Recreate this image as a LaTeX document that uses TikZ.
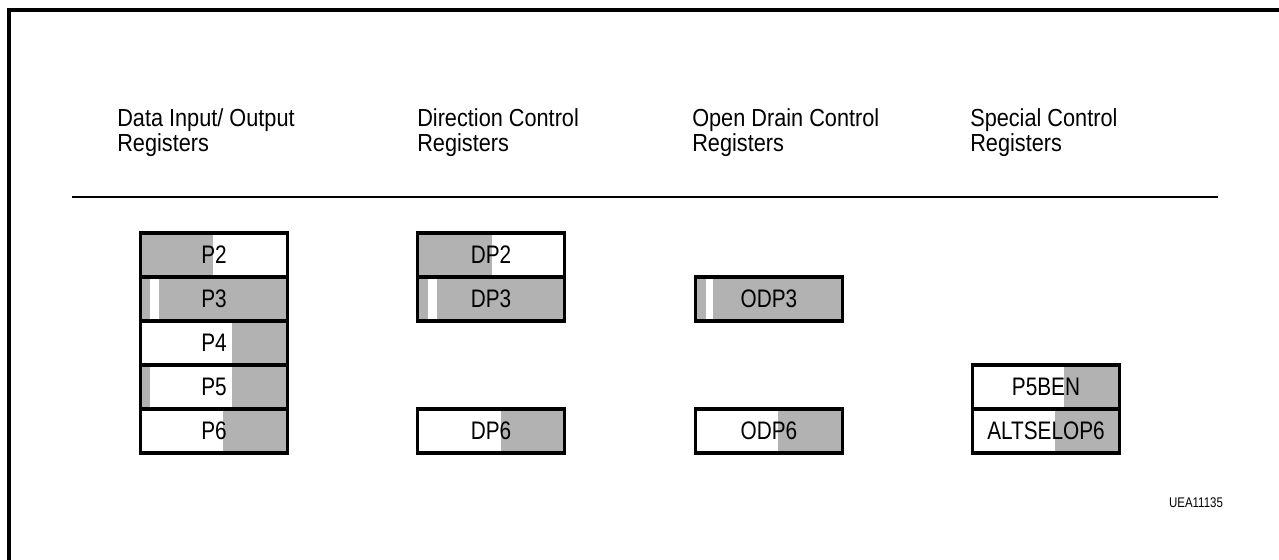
\documentclass[tikz,border=0pt]{standalone}
\usepackage{fontspec}
\setmainfont{Liberation Sans}
\newfontfamily\narrowsans[FakeStretch=0.82]{Liberation Sans}
\newfontfamily\headsans[FakeStretch=0.88]{Liberation Sans}
\usetikzlibrary{positioning}

\definecolor{regshade}{gray}{0.7}

\newcommand*{\regw}{110.25pt}
\newcommand*{\regh}{33pt}

\begin{document}
\begin{tikzpicture}
[
	x=0.75pt, y=-0.75pt,
	reg/.style={rectangle,draw,line width=2.3pt,outer sep=0pt,inner sep=0pt,
		minimum width=\regw,minimum height=\regh,font=\narrowsans\fontsize{19}{20}\selectfont},
	head/.style={anchor=north west,align=left,inner sep=0pt,
		font=\headsans\fontsize{18.5}{19}\selectfont},
	shade/.style={fill=regshade},
	gap/.style={fill=white}
]

	\useasboundingbox[fill=white] (0,0) rectangle (1279,560);

	% frame
	\draw[line width=2.3pt] (9,560) -- (9,10) -- (1279,10);

	% fills
	\fill[shade] (141,233) rectangle (213,277);
	\fill[shade] (141,277) rectangle (287,321);
	\fill[gap] (150,277) rectangle (159,321);
	\fill[shade] (232,321) rectangle (287,365);
	\fill[shade] (141,365) rectangle (150,409);
	\fill[shade] (232,365) rectangle (287,409);
	\fill[shade] (223,409) rectangle (287,453);

	\fill[shade] (418,233) rectangle (492,277);
	\fill[shade] (418,277) rectangle (564,321);
	\fill[gap] (428,277) rectangle (437,321);
	\fill[shade] (501,409) rectangle (564,453);

	\fill[shade] (696,277) rectangle (842,321);
	\fill[gap] (706,277) rectangle (713,321);
	\fill[shade] (778,409) rectangle (842,453);

	\fill[shade] (1064,365) rectangle (1119,409);
	\fill[shade] (1055,409) rectangle (1119,453);

	% headings
	\node[head] (hdata) at (117,108) {Data Input/ Output\\Registers};
	\node[head] (hdir) at (417,108) {Direction Control\\Registers};
	\node[head] (hodr) at (692,108) {Open Drain Control\\Registers};
	\node[head] (hspec) at (970,108) {Special Control\\Registers};

	\coordinate (rulel) at (72,197);
	\coordinate (ruler) at (1218,197);
	\draw[line width=0.8pt] (rulel) -- (ruler);

	% data registers
	\node[reg] (p2) at (214,255) {P2};
	\node[reg,below=0pt of p2] (p3) {P3};
	\node[reg,below=0pt of p3] (p4) {P4};
	\node[reg,below=0pt of p4] (p5) {P5};
	\node[reg,below=0pt of p5] (p6) {P6};

	% direction registers
	\node[reg] (dp2) at (491,255) {DP2};
	\node[reg,below=0pt of dp2] (dp3) {DP3};
	\node[reg] (dp6) at (491,431) {DP6};

	% open drain registers
	\node[reg] (odp3) at (769,299) {ODP3};
	\node[reg] (odp6) at (769,431) {ODP6};

	% special registers
	\node[reg] (p5ben) at (1046,387) {P5BEN};
	\node[reg,below=0pt of p5ben] (altsel) {ALTSELOP6};

	\node[font=\narrowsans\fontsize{10.5}{12}\selectfont] (fig) at (1196,503) {UEA11135};

\end{tikzpicture}
\end{document}
